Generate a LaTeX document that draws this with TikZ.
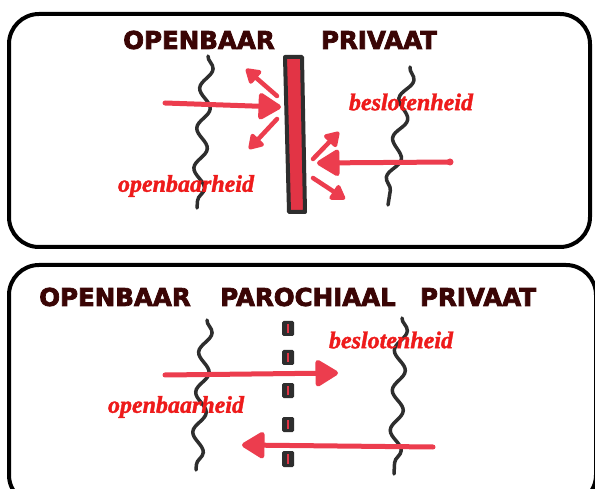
\documentclass[tikz,border=0pt]{standalone}
\usepackage{fontspec}
\setmainfont{Liberation Serif}[BoldItalicFeatures={FakeBold=1.5}]
\newfontfamily\titlefont{DejaVu Sans}[BoldFeatures={FakeBold=3}]
\usetikzlibrary{arrows.meta,decorations.pathmorphing}
\definecolor{titlecol}{HTML}{3A0505}
\definecolor{redtxt}{HTML}{EE1B1B}
\definecolor{arrowred}{HTML}{EC3D4E}
\definecolor{barred}{HTML}{E23445}
\definecolor{inkcol}{HTML}{2E2E2E}
\tikzset{
  panel/.style={draw=black, line width=4pt, rounded corners=30pt},
  title/.style={font=\titlefont\bfseries\fontsize{24.5}{26}\selectfont, text=titlecol, inner sep=0pt},
  redlabel/.style={font=\bfseries\itshape\fontsize{24}{26}\selectfont, text=redtxt, inner sep=0pt},
  wave/.style={draw=inkcol, line width=3.5pt, line cap=round,
    decorate, decoration={snake, segment length=40pt, amplitude=6pt}},
  bigarrow/.style={draw=arrowred, line width=5pt, line cap=round,
    -{Triangle[length=25pt,width=29pt,round]}},
  smallarrow/.style={draw=arrowred, line width=4.5pt, line cap=round,
    -{Triangle[length=16pt,width=19pt,round]}},
  wallbar/.style={draw=inkcol, line width=4pt, fill=barred, line join=round},
  dashpiece/.style={fill=inkcol, rounded corners=1.5pt},
  dashcore/.style={draw=barred, line width=1.8pt}
}
\begin{document}
\begin{tikzpicture}[x=1pt,y=-1pt]
\useasboundingbox (0,0) rectangle (595,489);
\fill[white] (0,0) rectangle (595,489);

% ---------- top panel ----------
\draw[panel] (9,14) rectangle (590,247);
\node[title] (t1) at (199,40) {OPENBAAR};
\node[title] (t2) at (379,40) {PRIVAAT};

\coordinate (w1a) at (208,56);  \coordinate (w1b) at (197,208);
\coordinate (w2a) at (410,67);  \coordinate (w2b) at (388,205);
\draw[wave] (w1a) -- (w1b);
\draw[wave] (w2a) -- (w2b);

\draw[wallbar] (285,57) -- (302,57) -- (305,212) -- (289,212) -- cycle;

\coordinate (a1s) at (165,103); \coordinate (a1e) at (281,107);
\coordinate (a2s) at (450,162); \coordinate (a2e) at (317,163);
\draw[bigarrow] (a1s) -- (a1e);
\draw[bigarrow] (a2s) -- (a2e);
\fill[arrowred] (a2s) circle (3.5pt);

\coordinate (r1s) at (277,96);  \coordinate (r1e) at (246,69);
\coordinate (r2s) at (277,119); \coordinate (r2e) at (249,149);
\coordinate (r3s) at (313,159); \coordinate (r3e) at (339,132);
\coordinate (r4s) at (313,178); \coordinate (r4e) at (345,199);
\draw[smallarrow] (r1s) -- (r1e);
\draw[smallarrow] (r2s) -- (r2e);
\draw[smallarrow] (r3s) -- (r3e);
\draw[smallarrow] (r4s) -- (r4e);

\node[redlabel] (b1) at (411,102) {beslotenheid};
\node[redlabel] (o1) at (186,186) {openbaarheid};

% ---------- bottom panel ----------
\draw[panel] (9,265) rectangle (596,505);
\node[title] (t3) at (115,297) {OPENBAAR};
\node[title] (t4) at (308,297) {PAROCHIAAL};
\node[title] (t5) at (478,297) {PRIVAAT};

\coordinate (w3a) at (207,320); \coordinate (w3b) at (196,470);
\coordinate (w4a) at (402,318); \coordinate (w4b) at (394,474);
\draw[wave] (w3a) -- (w3b);
\draw[wave] (w4a) -- (w4b);

\foreach \ya/\yb in {321/336, 350/365, 383/398, 417/432, 451/467}{
  \fill[dashpiece] (282,\ya) rectangle (294,\yb);
  \draw[dashcore] (288,\ya+3) -- (288,\yb-3);
}

\coordinate (a3s) at (165,375); \coordinate (a3e) at (338,373);
\coordinate (a4s) at (433,447); \coordinate (a4e) at (242,445);
\draw[bigarrow] (a3s) -- (a3e);
\draw[bigarrow] (a4s) -- (a4e);

\node[redlabel] (b2) at (391,340) {beslotenheid};
\node[redlabel] (o2) at (176,407) {openbaarheid};
\end{tikzpicture}
\end{document}
